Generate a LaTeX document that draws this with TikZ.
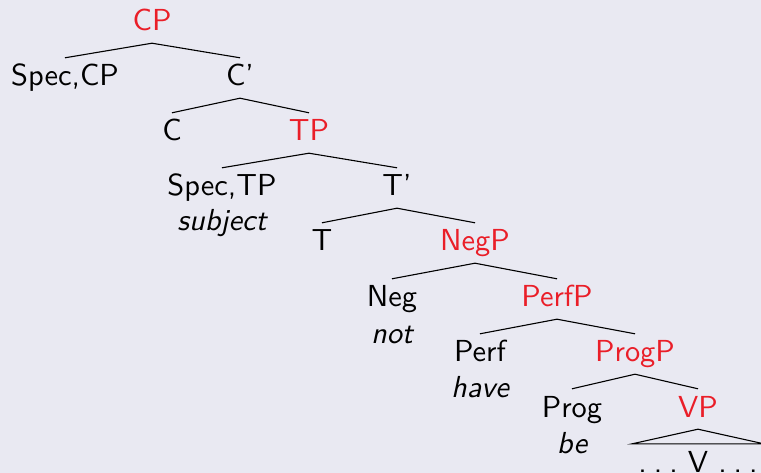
\documentclass[tikz,border=0pt]{standalone}
\usepackage{fontspec}
\setsansfont{lmsans10-regular.otf}[ItalicFont=lmsans10-oblique.otf]
\definecolor{bgc}{RGB}{233,233,242}
\definecolor{phr}{RGB}{234,30,40}
\newcommand{\spreaddots}{.\kern7pt.\kern7pt.}
\begin{document}
\begin{tikzpicture}[x=1pt,y=-1pt,
  every node/.style={font=\sffamily\fontsize{30.4}{36}\selectfont},
  lab/.style={anchor=base, text height=21pt, text depth=5pt, inner xsep=3pt, inner ysep=7pt},
  phrase/.style={lab, text=phr},
  word/.style={anchor=base, inner sep=0pt, font=\sffamily\itshape\fontsize{30.4}{36}\selectfont},
  edge/.style={line width=1.1pt}]
\fill[bgc] (0,0) rectangle (761,473);
\useasboundingbox (0,0) rectangle (761,473);
\begin{scope}
\clip (0,0) rectangle (761,473);
\node[phrase] (CP) at (152,31) {CP};
\node[lab] (SpecCP) at (65,86) {Spec,CP};
\node[lab] (Cbar) at (240,86) {C'};
\node[lab] (C) at (172,141) {C};
\node[phrase] (TP) at (309,141) {TP};
\node[lab] (SpecTP) at (222,196) {Spec,TP};
\node[word] (subj) at (222,231) {subject};
\node[lab] (Tbar) at (397,196) {T'};
\node[lab] (T) at (322,251) {T};
\node[phrase] (NegP) at (475,251) {NegP};
\node[lab] (Neg) at (392,307) {Neg};
\node[word] (not) at (392,343) {not};
\node[phrase] (PerfP) at (557,307) {PerfP};
\node[lab] (Perf) at (480,362) {Perf};
\node[word] (have) at (480,397) {have};
\node[phrase] (ProgP) at (635,362) {ProgP};
\node[lab] (Prog) at (572,417) {Prog};
\node[word] (be) at (572,453) {be};
\node[phrase] (VP) at (698,417) {VP};
\node[lab, inner xsep=6pt] (Vbar) at (698,472) {\spreaddots\ V \spreaddots};
\draw[edge] (SpecCP.north) -- (CP.south) -- (Cbar.north);
\draw[edge] (C.north) -- (Cbar.south) -- (TP.north);
\draw[edge] (SpecTP.north) -- (TP.south) -- (Tbar.north);
\draw[edge] (T.north) -- (Tbar.south) -- (NegP.north);
\draw[edge] (Neg.north) -- (NegP.south) -- (PerfP.north);
\draw[edge] (Perf.north) -- (PerfP.south) -- (ProgP.north);
\draw[edge] (Prog.north) -- (ProgP.south) -- (VP.north);
\draw[edge] (Vbar.north west) -- (VP.south) -- (Vbar.north east) -- cycle;
\end{scope}
\end{tikzpicture}
\end{document}
